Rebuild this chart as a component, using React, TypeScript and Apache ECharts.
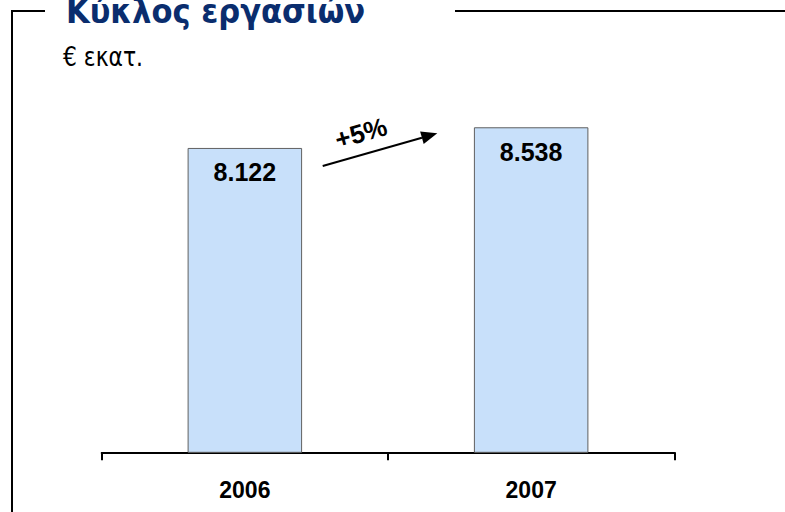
import React, { useEffect, useRef } from "react";
import * as echarts from "echarts";

const categories = ["2006", "2007"];
const revenue = [8122, 8538];
const valueLabels = ["8.122", "8.538"];
const titleText = "Κύκλος εργασιών";
const unitText = "€ εκατ.";
const growthText = "+5%";

export default function App() {
  const ref = useRef<HTMLDivElement>(null);
  useEffect(() => {
    if (!ref.current) return;
    const chart = echarts.init(ref.current, null, { renderer: "svg" });
    const cond = "'DejaVu Sans Condensed', 'DejaVu Sans', sans-serif";
    const arial = "'Liberation Sans', Arial, sans-serif";
    // arrow geometry
    const x1 = 322.7, y1 = 166, x2 = 437.3, y2 = 133.3;
    const dx = x2 - x1, dy = y2 - y1, L = Math.hypot(dx, dy);
    const ux = dx / L, uy = dy / L, nx = -uy, ny = ux;
    const hl = 16, hw = 6.5;
    const bx = x2 - hl * ux, by = y2 - hl * uy;
    chart.setOption({
      animation: false,
      grid: { left: 101.7, right: 110.7, top: 104.3, bottom: 59.7 },
      xAxis: {
        type: "category",
        data: categories,
        axisLine: { lineStyle: { color: "#000", width: 2 } },
        axisTick: { show: true, length: 8, lineStyle: { color: "#000", width: 2 } },
        axisLabel: { color: "#000", fontSize: 23, fontWeight: "bold", fontFamily: arial, margin: 26 },
      },
      yAxis: { type: "value", min: 2000, max: 9000, show: false, splitLine: { show: false } },
      series: [
        {
          type: "bar",
          data: revenue,
          barWidth: 114.5,
          itemStyle: { color: "#c8e0fa", borderColor: "#606060", borderWidth: 1 },
          label: {
            show: true,
            position: "insideTop",
            distance: 12,
            formatter: (p: any) => valueLabels[p.dataIndex],
            color: "#000",
            fontSize: 25,
            fontWeight: "bold",
            fontFamily: arial,
          },
        },
      ],
      graphic: [
        { type: "line", shape: { x1: 12, y1: 11, x2: 12, y2: 512 }, style: { stroke: "#000", lineWidth: 2 } },
        { type: "line", shape: { x1: 11, y1: 11, x2: 45, y2: 11 }, style: { stroke: "#000", lineWidth: 2 } },
        { type: "line", shape: { x1: 455, y1: 11, x2: 785, y2: 11 }, style: { stroke: "#000", lineWidth: 2 } },
        {
          type: "text",
          x: 66,
          y: 28,
          style: { text: titleText, fontSize: 34, fontWeight: "bold", fontFamily: cond, fill: "#0a2d6e", textVerticalAlign: "bottom" },
        },
        {
          type: "text",
          x: 63,
          y: 70,
          scaleX: 0.9,
          style: { text: unitText, fontSize: 27, fontFamily: cond, fill: "#000", textVerticalAlign: "bottom" },
        },
        { type: "line", shape: { x1, y1, x2: bx, y2: by }, style: { stroke: "#000", lineWidth: 2 } },
        {
          type: "polygon",
          shape: { points: [[x2, y2], [bx + hw * nx, by + hw * ny], [bx - hw * nx, by - hw * ny]] },
          style: { fill: "#000" },
        },
        {
          type: "text",
          x: 361,
          y: 133,
          rotation: Math.atan2(-dy, dx),
          style: { text: growthText, fontSize: 26, fontWeight: "bold", fontFamily: arial, fill: "#000", textAlign: "center", textVerticalAlign: "middle" },
        },
      ],
    });
    return () => chart.dispose();
  }, []);
  return <div ref={ref} style={{ position: "fixed", left: 0, top: 0, width: 785, height: 512, background: "#fff" }} />;
}
